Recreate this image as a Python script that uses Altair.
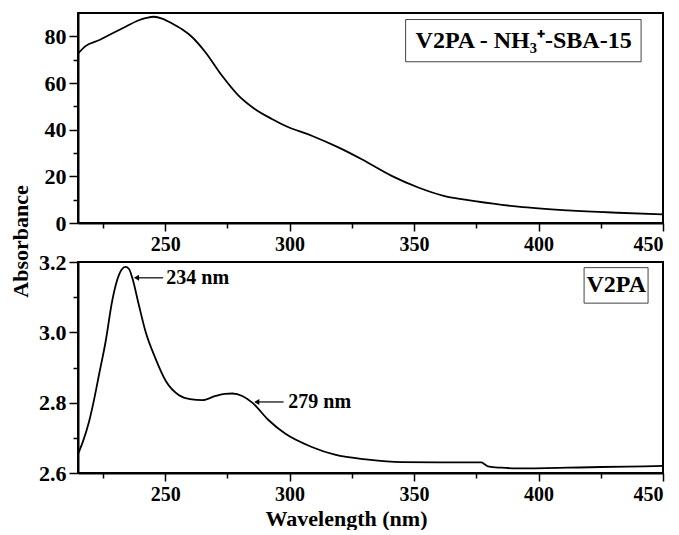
import altair as alt
import pandas as pd

# ---- data ----
top_nm = [215, 218, 223.4, 228.7, 234.1, 239.4, 242.5, 245.5, 248.8, 252.8, 256.8, 260.8, 266.1,
          272.8, 279.5, 286, 292.9, 298.2, 308.9, 319.6, 329, 341, 351.7, 362.3, 374.4, 391.8,
          411.8, 431.8, 450]
top_abs = [72.6, 75.8, 78.3, 81.2, 84.1, 86.9, 87.9, 88.4, 87.6, 85.5, 83.0, 79.7, 73.3,
           63.2, 54.6, 48.9, 44.6, 41.7, 37.4, 32.4, 27.3, 20.2, 15.2, 11.5, 9.4, 7.0,
           5.4, 4.4, 3.7]

bot_nm = [215, 217, 219.4, 221.5, 223.4, 226.1, 228.7, 230.8, 232.5, 234.1, 235.5, 236.8,
          239.4, 242.1, 246.1, 250.4, 255.6, 260, 265, 270.2, 274, 277, 281, 285, 291.6,
          298.2, 308.9, 318.2, 331.6, 345, 360, 377, 378.5, 379.7, 385, 391.8, 411.8, 425,
          442.5, 450]
bot_abs = [2.654, 2.69, 2.745, 2.81, 2.878, 2.974, 3.088, 3.150, 3.178, 3.186, 3.18, 3.155,
           3.079, 3.003, 2.926, 2.860, 2.821, 2.810, 2.807, 2.819, 2.825, 2.826, 2.819, 2.800,
           2.750, 2.712, 2.674, 2.652, 2.638, 2.631, 2.630, 2.630, 2.624, 2.619, 2.615, 2.613,
           2.615, 2.617, 2.619, 2.620]

peak_labels = ["234 nm", "279 nm"]
peak_text_nm = [250.5, 299.5]
peak_text_abs = [3.155, 2.802]
arrow_tail_nm = [249.2, 297.6]
arrow_head_nm = [238.5, 286.8]

legend_top = "V2PA - NH\u2083\u207a-SBA-15"
legend_top_box = {"x": 346.6, "x2": 441.2, "y": 69.1, "y2": 87.2, "tx": 394.0, "ty": 78.2}
legend_bot = "V2PA"
legend_bot_box = {"x": 418.3, "x2": 444.0, "y": 3.083, "y2": 3.184, "tx": 431.2, "ty": 3.134}

x_ticks = [225, 250, 275, 300, 325, 350, 375, 400, 425, 450]
top_ticks = [0, 10, 20, 30, 40, 50, 60, 70, 80]
bot_ticks = [2.6, 2.7, 2.8, 2.9, 3.0, 3.1, 3.2]

FONT = "Liberation Serif"

df_top = pd.DataFrame({"nm": top_nm, "a": top_abs})
df_bot = pd.DataFrame({"nm": bot_nm, "a": bot_abs})
df_ann = pd.DataFrame({"label": peak_labels, "nm": peak_text_nm, "a": peak_text_abs,
                       "tail": arrow_tail_nm, "head": arrow_head_nm})


def x_enc(field, show_title):
    return alt.X(field, type="quantitative",
                 scale=alt.Scale(domain=[215, 450], nice=False, zero=False),
                 axis=alt.Axis(values=x_ticks,
                               labelExpr="datum.value % 50 == 0 ? datum.label : ''",
                               tickSize={"condition": {"test": "datum.value % 50 == 0", "value": 8}, "value": 5},
                               title="Wavelength (nm)" if show_title else None,
                               titleX=268,
                               labelFontSize=20,
                               labelPadding=3, titlePadding=4))


y_top_scale = alt.Scale(domain=[0, 90], nice=False, zero=False)
y_bot_scale = alt.Scale(domain=[2.6, 3.2], nice=False, zero=False)


def y_top(field):
    return alt.Y(field, type="quantitative", scale=y_top_scale,
                 axis=alt.Axis(values=top_ticks, title="Absorbance", titleX=-46, titleY=228,
                               labelExpr="datum.value % 20 == 0 ? datum.label : ''",
                               tickSize={"condition": {"test": "datum.value % 20 == 0", "value": 9}, "value": 5},
                               labelFontSize=22, labelPadding=3))


def y_bot(field):
    return alt.Y(field, type="quantitative", scale=y_bot_scale,
                 axis=alt.Axis(values=bot_ticks, title=None, format=".1f",
                               labelExpr="round(datum.value*10) % 2 == 0 ? format(datum.value, '.1f') : ''",
                               tickSize={"condition": {"test": "round(datum.value*10) % 2 == 0", "value": 9}, "value": 5},
                               labelFontSize=22, labelPadding=3))


# ---- top panel ----
line_top = alt.Chart(df_top).mark_line(color="black", strokeWidth=1.8, interpolate="monotone").encode(
    x=x_enc("nm", False), y=y_top("a"))

box_top_df = pd.DataFrame([legend_top_box])
box_top = alt.Chart(box_top_df).mark_rect(fill="white", stroke="#444", strokeWidth=1).encode(
    x=x_enc("x", False), x2="x2", y=y_top("y"), y2="y2")
text_top = alt.Chart(box_top_df.assign(t=legend_top)).mark_text(
    font=FONT, fontWeight="bold", fontSize=24, color="black", align="center", baseline="middle").encode(
    x=x_enc("tx", False), y=y_top("ty"), text="t:N")

top = alt.layer(line_top, box_top, text_top).properties(width=585, height=210)

# ---- bottom panel ----
line_bot = alt.Chart(df_bot).mark_line(color="black", strokeWidth=1.8, interpolate="monotone").encode(
    x=x_enc("nm", True), y=y_bot("a"))

arrows = alt.Chart(df_ann).mark_rule(color="black", strokeWidth=1.2).encode(
    x=x_enc("tail", True), x2="head", y=y_bot("a"))
heads = alt.Chart(df_ann).mark_point(shape="triangle-left", filled=True, color="black",
                                     size=35, opacity=1).encode(
    x=x_enc("head", True), y=y_bot("a"))
ann_text = alt.Chart(df_ann).mark_text(font=FONT, fontWeight="bold", fontSize=20, color="black",
                                       align="left", baseline="middle").encode(
    x=x_enc("nm", True), y=y_bot("a"), text="label:N")

box_bot_df = pd.DataFrame([legend_bot_box])
box_bot = alt.Chart(box_bot_df).mark_rect(fill="white", stroke="#444", strokeWidth=1).encode(
    x=x_enc("x", True), x2="x2", y=y_bot("y"), y2="y2")
text_bot = alt.Chart(box_bot_df.assign(t=legend_bot)).mark_text(
    font=FONT, fontWeight="bold", fontSize=24, color="black", align="center", baseline="middle").encode(
    x=x_enc("tx", True), y=y_bot("ty"), text="t:N")

bottom = alt.layer(line_bot, arrows, heads, ann_text, box_bot, text_bot).properties(width=585, height=211)

chart = alt.vconcat(top, bottom, spacing=39, bounds="flush").properties(
    padding={"left": 0, "top": 4, "right": 2, "bottom": 0},
).configure_view(stroke="black", strokeWidth=2).configure_axis(
    grid=False, domainColor="black", domainWidth=2, tickColor="black", tickWidth=1.5,
    labelFont=FONT, labelFontWeight="bold", labelColor="black",
    titleFont=FONT, titleFontWeight="bold", titleFontSize=22, titleColor="black",
)

chart.save("out.html", embed_options={"renderer": "svg", "actions": False})
